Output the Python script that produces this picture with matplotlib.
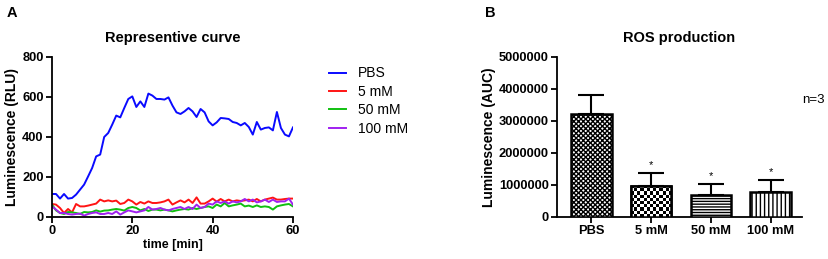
import numpy as np
import matplotlib
matplotlib.use("Agg")
import matplotlib.pyplot as plt

plt.rcParams['font.family'] = ['Liberation Sans', 'DejaVu Sans']
plt.rcParams['hatch.linewidth'] = 1.0

# Panel A: representative luminescence curves (RLU), one reading per minute
time_min = list(range(0, 61))
pbs = [115, 115, 92, 115, 92, 95, 112, 137, 162, 203, 245, 303, 312, 400, 420,
       462, 507, 498, 545, 590, 603, 550, 578, 550, 617, 607, 590, 590, 587, 598,
       557, 523, 515, 528, 545, 528, 500, 540, 523, 478, 458, 473, 495, 493, 490,
       475, 470, 458, 470, 450, 412, 475, 437, 445, 448, 433, 525, 445, 412, 403,
       448]
mm5 = [65, 62, 45, 20, 40, 23, 65, 53, 53, 57, 62, 67, 87, 78, 83, 78, 82, 65,
       70, 87, 78, 62, 75, 67, 78, 70, 70, 73, 78, 87, 62, 73, 83, 73, 87, 70,
       98, 67, 67, 78, 92, 77, 90, 78, 87, 78, 83, 80, 83, 87, 78, 90, 78, 87,
       92, 97, 87, 87, 90, 92, 92]
mm50 = [62, 33, 20, 15, 25, 23, 20, 15, 25, 23, 25, 33, 27, 32, 33, 37, 40, 37,
        32, 45, 50, 45, 33, 40, 30, 37, 37, 33, 37, 33, 28, 33, 37, 40, 37, 45,
        40, 45, 50, 53, 45, 62, 53, 70, 53, 58, 62, 67, 53, 57, 50, 58, 50, 53,
        50, 37, 53, 58, 62, 65, 53]
mm100 = [53, 37, 20, 20, 15, 12, 15, 17, 7, 15, 20, 23, 15, 15, 20, 15, 28, 12,
         23, 33, 28, 23, 28, 33, 50, 37, 40, 45, 37, 33, 40, 45, 50, 40, 50, 40,
         62, 45, 50, 67, 62, 78, 70, 78, 67, 78, 73, 78, 90, 78, 87, 73, 78, 87,
         75, 87, 75, 78, 78, 92, 62]
curve_labels = ['PBS', '5 mM', '50 mM', '100 mM']
curve_colors = ['#0a0aff', '#ff1414', '#10c010', '#a020f0']

# Panel B: ROS production (AUC), mean and upper SD
groups = ['PBS', '5 mM', '50 mM', '100 mM']
auc_mean = [3220000, 980000, 690000, 770000]
auc_err = [600000, 390000, 330000, 380000]
hatches = ['xxxxxxx', None, '------', '||||']

fig = plt.figure(figsize=(8.29, 2.59), dpi=100)

# ---- Panel A
axA = fig.add_axes([0.0627, 0.1622, 0.2907, 0.6178])
for ys, lab, col in zip([pbs, mm5, mm50, mm100], curve_labels, curve_colors):
    axA.plot(time_min, ys, color=col, lw=1.4, label=lab)
axA.set_xlim(0, 60)
axA.set_ylim(0, 800)
axA.set_xticks([0, 20, 40, 60])
axA.set_yticks([0, 200, 400, 600, 800])
axA.set_xlabel('time [min]', fontsize=9, fontweight='bold', labelpad=1)
axA.set_ylabel('Luminescence (RLU)', fontsize=10, fontweight='bold', labelpad=2)
axA.set_title('Representive curve', fontsize=10.5, fontweight='bold', pad=11)
axA.legend(loc='upper left', bbox_to_anchor=(0.39, 0.765), bbox_transform=fig.transFigure,
           frameon=False, fontsize=10, handlelength=1.2, handletextpad=0.9,
           labelspacing=0.32, borderaxespad=0)

# ---- Panel B
axB = fig.add_axes([0.6719, 0.1622, 0.2955, 0.6178])
xpos = np.arange(len(groups))
bar_w = 0.68
bars = axB.bar(xpos, auc_mean, width=bar_w, color='white', edgecolor='black',
               linewidth=1.8, zorder=3)
for b, h in zip(bars, hatches):
    if h:
        b.set_hatch(h)

# coarse checkerboard fill for the 5 mM bar
cb = bars[1]
nrows, ncols = 10, 13
board = np.indices((nrows, ncols)).sum(axis=0) % 2
img = axB.imshow(board, cmap='gray', interpolation='nearest', aspect='auto',
                 extent=(xpos[1] - bar_w / 2, xpos[1] + bar_w / 2, 0, auc_mean[1]),
                 zorder=3.5)
img.set_clip_path(cb)
cb.set_facecolor('none')
axB.bar([xpos[1]], [auc_mean[1]], width=bar_w, color='none', edgecolor='black',
        linewidth=1.8, zorder=4)

axB.errorbar(xpos, auc_mean, yerr=[np.zeros(len(groups)), auc_err], fmt='none',
             ecolor='black', elinewidth=1.5, capsize=9.5, capthick=1.5, zorder=1)
for i in range(1, len(groups)):
    axB.text(xpos[i], auc_mean[i] + auc_err[i] + 110000, '*', ha='center',
             va='bottom', fontsize=8)
axB.set_xlim(-0.57, 3.52)
axB.set_ylim(0, 5000000)
axB.set_xticks(xpos)
axB.set_xticklabels(groups)
axB.set_yticks([0, 1000000, 2000000, 3000000, 4000000, 5000000])
axB.set_yticklabels(['0', '1000000', '2000000', '3000000', '4000000', '5000000'])
axB.set_ylabel('Luminescence (AUC)', fontsize=10, fontweight='bold', labelpad=2)
axB.set_title('ROS production', fontsize=10.5, fontweight='bold', pad=11)
fig.text(0.968, 0.615, 'n=3', fontsize=9.5, ha='left', va='center')

for ax in (axA, axB):
    ax.spines['top'].set_visible(False)
    ax.spines['right'].set_visible(False)
    ax.spines['left'].set_linewidth(1.3)
    ax.spines['bottom'].set_linewidth(1.3)
    ax.tick_params(width=1.3, length=4, labelsize=9.3, pad=2)
    for t in ax.get_xticklabels() + ax.get_yticklabels():
        t.set_fontweight('bold')

fig.text(0.008, 0.975, 'A', fontsize=10.5, fontweight='bold', va='top')
fig.text(0.585, 0.975, 'B', fontsize=10.5, fontweight='bold', va='top')

fig.savefig('out.png', dpi=100)
